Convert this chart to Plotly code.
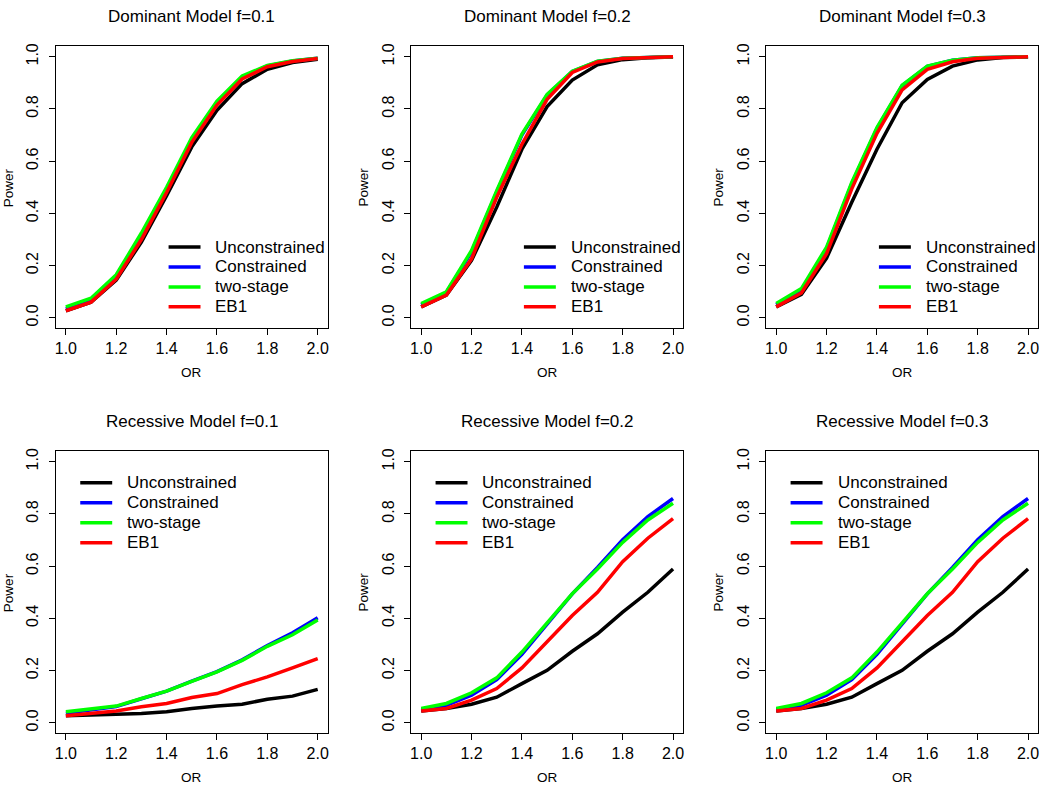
import plotly.graph_objects as go

# ---------------- data ----------------
OR = [1.0, 1.1, 1.2, 1.3, 1.4, 1.5, 1.6, 1.7, 1.8, 1.9, 2.0]

series_names = ["Unconstrained", "Constrained", "two-stage", "EB1"]
series_colors = ["#000000", "#0000FF", "#00FF00", "#FF0000"]

panel_titles = ["Dominant Model f=0.1", "Dominant Model f=0.2", "Dominant Model f=0.3",
                "Recessive Model f=0.1", "Recessive Model f=0.2", "Recessive Model f=0.3"]

x_tick_vals = [1.0, 1.2, 1.4, 1.6, 1.8, 2.0]
y_tick_vals = [0.0, 0.2, 0.4, 0.6, 0.8, 1.0]

# Dominant f=0.1
dom1_unc = [0.027, 0.060, 0.145, 0.290, 0.468, 0.655, 0.795, 0.897, 0.952, 0.978, 0.990]
dom1_con = [0.035, 0.068, 0.158, 0.315, 0.490, 0.680, 0.823, 0.922, 0.965, 0.984, 0.994]
dom1_two = [0.042, 0.075, 0.165, 0.325, 0.500, 0.690, 0.830, 0.926, 0.967, 0.985, 0.994]
dom1_eb1 = [0.027, 0.060, 0.148, 0.300, 0.480, 0.672, 0.815, 0.915, 0.962, 0.982, 0.993]

# Dominant f=0.2
dom2_unc = [0.042, 0.087, 0.220, 0.424, 0.646, 0.809, 0.911, 0.969, 0.989, 0.996, 0.999]
dom2_con = [0.050, 0.097, 0.252, 0.482, 0.700, 0.853, 0.944, 0.982, 0.994, 0.998, 1.000]
dom2_two = [0.055, 0.100, 0.258, 0.487, 0.704, 0.856, 0.945, 0.983, 0.994, 0.998, 1.000]
dom2_eb1 = [0.042, 0.087, 0.226, 0.462, 0.665, 0.837, 0.940, 0.980, 0.993, 0.998, 1.000]

# Dominant f=0.3
dom3_unc = [0.042, 0.090, 0.229, 0.443, 0.646, 0.824, 0.913, 0.964, 0.988, 0.997, 0.999]
dom3_con = [0.050, 0.105, 0.265, 0.514, 0.725, 0.889, 0.963, 0.987, 0.996, 0.999, 1.000]
dom3_two = [0.055, 0.112, 0.271, 0.519, 0.729, 0.891, 0.964, 0.987, 0.996, 0.999, 1.000]
dom3_eb1 = [0.042, 0.095, 0.246, 0.494, 0.707, 0.873, 0.952, 0.981, 0.994, 0.998, 1.000]

# Recessive f=0.1
rec1_unc = [0.027, 0.030, 0.032, 0.036, 0.042, 0.055, 0.064, 0.071, 0.090, 0.102, 0.128]
rec1_con = [0.036, 0.048, 0.062, 0.092, 0.121, 0.160, 0.196, 0.241, 0.296, 0.345, 0.402]
rec1_two = [0.042, 0.052, 0.064, 0.093, 0.121, 0.159, 0.195, 0.239, 0.293, 0.337, 0.394]
rec1_eb1 = [0.027, 0.036, 0.045, 0.061, 0.074, 0.097, 0.112, 0.146, 0.176, 0.210, 0.246]

# Recessive f=0.2
rec2_unc = [0.045, 0.055, 0.071, 0.098, 0.150, 0.201, 0.274, 0.341, 0.424, 0.500, 0.589]
rec2_con = [0.050, 0.067, 0.106, 0.165, 0.262, 0.380, 0.494, 0.595, 0.701, 0.790, 0.859]
rec2_two = [0.055, 0.074, 0.115, 0.172, 0.271, 0.385, 0.494, 0.589, 0.691, 0.777, 0.841]
rec2_eb1 = [0.045, 0.055, 0.087, 0.131, 0.210, 0.309, 0.411, 0.500, 0.617, 0.707, 0.782]

# Recessive f=0.3
rec3_unc = [0.045, 0.055, 0.071, 0.098, 0.150, 0.201, 0.274, 0.341, 0.424, 0.500, 0.589]
rec3_con = [0.050, 0.067, 0.106, 0.165, 0.262, 0.380, 0.494, 0.595, 0.701, 0.790, 0.859]
rec3_two = [0.055, 0.074, 0.115, 0.172, 0.271, 0.385, 0.494, 0.589, 0.691, 0.777, 0.841]
rec3_eb1 = [0.045, 0.055, 0.087, 0.131, 0.210, 0.309, 0.411, 0.500, 0.617, 0.707, 0.782]

panel_data = [
    [dom1_unc, dom1_con, dom1_two, dom1_eb1],
    [dom2_unc, dom2_con, dom2_two, dom2_eb1],
    [dom3_unc, dom3_con, dom3_two, dom3_eb1],
    [rec1_unc, rec1_con, rec1_two, rec1_eb1],
    [rec2_unc, rec2_con, rec2_two, rec2_eb1],
    [rec3_unc, rec3_con, rec3_two, rec3_eb1],
]

# ---------------- layout geometry (pixels) ----------------
W, H = 1050, 790
col_left = [54.9, 410.9, 766.6]
row_top = [43.5, 450.0]
bw, bh = 272.5, 283.0
FONT = "Liberation Sans, Arial, Helvetica, sans-serif"

fig = go.Figure()
annotations = []
shapes = []

for i in range(6):
    r, c = divmod(i, 3)
    n = i + 1
    sfx = "" if n == 1 else str(n)
    left, top = col_left[c], row_top[r]
    xdom = [left / W, (left + bw) / W]
    ydom = [1 - (top + bh) / H, 1 - top / H]

    for k in range(4):
        fig.add_trace(go.Scatter(
            x=OR, y=panel_data[i][k], mode="lines", name=series_names[k],
            line=dict(color=series_colors[k], width=3.5),
            xaxis="x" + sfx, yaxis="y" + sfx, showlegend=False,
        ))

    axis_common = dict(
        showline=True, mirror=True, linecolor="black", linewidth=1,
        ticks="outside", ticklen=6, tickwidth=1, tickcolor="black",
        showgrid=False, zeroline=False, tickformat=".1f",
        tickfont=dict(family=FONT, size=16, color="black"),
    )
    fig.update_layout(**{
        "xaxis" + sfx: dict(domain=xdom, range=[0.96, 2.04], tickvals=x_tick_vals,
                            anchor="y" + sfx, **axis_common),
        "yaxis" + sfx: dict(domain=ydom, range=[-0.04, 1.04], tickvals=y_tick_vals,
                            anchor="x" + sfx, tickangle=-90, ticklabelstandoff=4,
                            **axis_common),
    })

    cx = (left + bw / 2) / W
    # panel title
    annotations.append(dict(
        text=panel_titles[i], x=cx, y=1 - (top - 29.5) / H, xref="paper", yref="paper",
        xanchor="center", yanchor="middle", showarrow=False,
        font=dict(family=FONT, size=17, color="black")))
    # x axis title
    annotations.append(dict(
        text="OR", x=cx, y=1 - (top + bh + 44.5) / H, xref="paper", yref="paper",
        xanchor="center", yanchor="middle", showarrow=False,
        font=dict(family=FONT, size=13.5, color="black")))
    # y axis title
    annotations.append(dict(
        text="Power", x=(left - 48) / W, y=1 - (top + bh / 2) / H, xref="paper", yref="paper",
        xanchor="center", yanchor="middle", showarrow=False, textangle=-90,
        font=dict(family=FONT, size=13.5, color="black")))

    # legend (drawn like R's legend())
    if r == 0:
        lx, ly = left + 113, top + 201.5
    else:
        lx, ly = left + 24.5, top + 31.7
    for k in range(4):
        yy = ly + 20 * k
        shapes.append(dict(type="line", xref="paper", yref="paper",
                           x0=lx / W, x1=(lx + 32) / W, y0=1 - yy / H, y1=1 - yy / H,
                           line=dict(color=series_colors[k], width=3.5)))
        annotations.append(dict(
            text=series_names[k], x=(lx + 45) / W, y=1 - yy / H, xref="paper", yref="paper",
            xanchor="left", yanchor="middle", showarrow=False,
            font=dict(family=FONT, size=17, color="black")))

fig.update_layout(
    width=W, height=H, margin=dict(l=0, r=0, t=0, b=0),
    paper_bgcolor="white", plot_bgcolor="white",
    annotations=annotations, shapes=shapes, showlegend=False,
)

fig.write_html(
    "out.html",
    config={"displayModeBar": False},
    post_script="document.body.style.margin='0';document.body.style.overflow='hidden';",
)
